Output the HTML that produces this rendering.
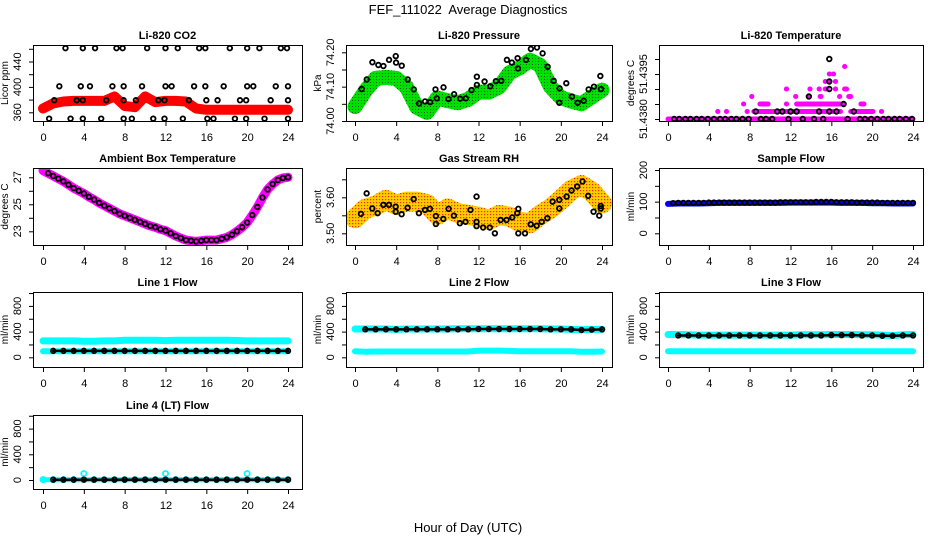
<!DOCTYPE html>
<html><head><meta charset="utf-8">
<style>
html,body{margin:0;padding:0;background:#fff;}
svg{display:block;font-family:"Liberation Sans",sans-serif;}
.tk{font-size:11px;}
.ttl{font-size:11px;font-weight:bold;}
</style></head>
<body>
<svg id="chart" width="936" height="540" viewBox="0 0 936 540">
<defs>
<pattern id="gpat" width="3" height="3" patternUnits="userSpaceOnUse"><rect width="3" height="3" fill="#00e000"/><rect x="1" y="1" width="1" height="1" fill="#006000"/></pattern>
<pattern id="opat" width="3" height="3" patternUnits="userSpaceOnUse"><rect width="3" height="3" fill="#ffcc00"/><rect x="1" y="1" width="1.2" height="1.2" fill="#e83000"/></pattern>
</defs>
<text x="468" y="14" text-anchor="middle" font-size="13" style="white-space:pre">FEF_111022&#160; Average Diagnostics</text>
<text x="468" y="532" text-anchor="middle" font-size="13">Hour of Day (UTC)</text>
</svg>
<script>
// ---------- data ----------
const hourTicks = [0,4,8,12,16,20,24];
const hourly = [0,1,2,3,4,5,6,7,8,9,10,11,12,13,14,15,16,17,18,19,20,21,22,23,24];

const co2Red = [366,374,377,378,378,378,378,385,370,368,385,376,378,378,377,366,364,364,364,364,364,364,364,364,364];
const co2BlackH461 = [2.2,3.9,5.1,7.2,7.8,10.2,12.0,13.2,15.3,15.9,18.3,20.0,21.2,23.3,23.9];
const co2BlackH401 = [1.6,3.7,4.6,6.8,7.9,9.7,12.0,12.6,14.8,15.9,17.7,20.0,20.6,22.8,24];
const co2BlackH379 = [1.1,3.3,3.9,6.2,7.9,9.1,11.3,11.9,14.3,16.0,17.1,19.3,19.9,22.3,24];
const co2BlackH350 = [0.6,2.7,3.9,5.7,7.9,8.7,10.8,11.9,13.7,16.1,16.7,18.8,19.9,21.7,24];

const presGreen = [74.042,74.088,74.124,74.127,74.124,74.099,74.040,74.025,74.067,74.059,74.053,74.063,74.084,74.084,74.099,74.140,74.155,74.177,74.162,74.100,74.068,74.058,74.050,74.070,74.090];
const presBlackH = [0.65,1.14,1.69,2.27,2.76,3.31,3.96,3.99,4.54,5.12,5.71,6.23,6.81,7.30,7.82,7.95,8.60,9.08,9.63,10.22,10.77,11.32,11.84,11.84,12.59,13.14,13.69,14.21,14.76,15.24,15.80,15.83,16.61,17.09,17.68,18.23,18.72,19.30,19.88,19.85,20.53,21.08,21.63,22.22,22.70,23.22,23.84,23.90];
const presBlackV = [74.093,74.121,74.171,74.163,74.160,74.178,74.189,74.170,74.161,74.121,74.092,74.051,74.057,74.055,74.092,74.066,74.098,74.064,74.078,74.065,74.066,74.090,74.129,74.105,74.115,74.101,74.116,74.117,74.178,74.170,74.183,74.153,74.178,74.210,74.214,74.197,74.158,74.117,74.095,74.053,74.110,74.071,74.053,74.059,74.092,74.100,74.131,74.093];

// temperature runs: [startHour, endHour, value]
const tempMagentaRuns = [[0,24,51.4380],[4.87,4.87,51.4381],[5.72,5.72,51.4381],[7.75,7.75,51.4381],[8.4,16.9,51.4381],[17.9,20.2,51.4381],[20.9,20.9,51.4381],
 [7.4,7.4,51.4382],[9.0,9.9,51.4382],[11.6,11.6,51.4382],[12.6,16.9,51.4382],[17.2,17.2,51.4382],[18.9,19.2,51.4382],
 [8.2,8.2,51.4383],[12.5,12.5,51.4383],[13.8,13.8,51.4383],[14.9,15.0,51.4383],[16.8,16.8,51.4383],[17.7,17.9,51.4383],
 [11.6,11.6,51.4384],[13.9,13.9,51.4384],[14.8,14.8,51.4384],[15.4,15.6,51.4384],[16.4,16.4,51.4384],[17.3,17.5,51.4384],
 [15.4,15.4,51.4385],[15.8,15.8,51.4385],[16.4,16.4,51.4385],[15.8,15.8,51.4386],[16.2,16.2,51.4386],[17.3,17.3,51.4387]];
const tempBlackH = [0.6,1.1,1.7,2.2,2.8,3.3,3.9,4.5,5.1,5.6,6.2,6.7,7.3,7.9,9.1,9.6,10.2,11.8,13.2,14.3,15.2,17.6,18.8,19.3,19.9,20.5,21.1,21.6,22.2,22.7,23.3,23.9,8.6,10.7,11.2,12.0,12.6,14.8,15.8,16.5,18.2,17.2,13.8,15.8,15.8,15.8];
const tempBlackV = [51.4380,51.4380,51.4380,51.4380,51.4380,51.4380,51.4380,51.4380,51.4380,51.4380,51.4380,51.4380,51.4380,51.4380,51.4380,51.4380,51.4380,51.4380,51.4380,51.4380,51.4380,51.4380,51.4380,51.4380,51.4380,51.4380,51.4380,51.4380,51.4380,51.4380,51.4380,51.4380,51.4381,51.4381,51.4381,51.4381,51.4381,51.4381,51.4381,51.4381,51.4381,51.4382,51.4383,51.4384,51.4385,51.4388];

const halfHours = [0,0.5,1,1.5,2,2.5,3,3.5,4,4.5,5,5.5,6,6.5,7,7.5,8,8.5,9,9.5,10,10.5,11,11.5,12,12.5,13,13.5,14,14.5,15,15.5,16,16.5,17,17.5,18,18.5,19,19.5,20,20.5,21,21.5,22,22.5,23,23.5,24];
const ambient = [27.5,27.3,27.1,26.9,26.7,26.45,26.2,26.0,25.8,25.55,25.35,25.1,24.9,24.7,24.5,24.3,24.15,24.0,23.85,23.7,23.55,23.4,23.3,23.15,23.05,22.85,22.65,22.5,22.35,22.3,22.25,22.3,22.35,22.35,22.35,22.45,22.55,22.75,23.0,23.3,23.65,24.2,24.8,25.5,26.1,26.5,26.8,26.95,27.0];

const rhCloud = [3.542,3.568,3.577,3.593,3.579,3.588,3.588,3.581,3.551,3.569,3.556,3.551,3.546,3.537,3.551,3.546,3.532,3.528,3.551,3.569,3.593,3.620,3.634,3.616,3.583];
const rhBlackH = [0.58,1.13,1.68,2.20,2.75,3.30,3.95,3.95,4.53,5.11,5.70,6.21,6.80,7.28,7.86,7.86,8.58,9.10,9.61,10.19,10.74,11.22,11.81,11.81,11.81,12.45,13.10,13.59,14.14,14.72,15.28,15.77,15.87,15.87,16.52,17.07,17.65,18.14,18.69,19.20,19.85,19.85,20.56,21.04,21.59,22.11,22.66,23.18,23.73,23.88,23.88];
const rhBlackV = [3.554,3.611,3.569,3.556,3.579,3.579,3.574,3.560,3.553,3.571,3.595,3.556,3.565,3.568,3.548,3.526,3.540,3.568,3.549,3.528,3.532,3.565,3.602,3.532,3.520,3.516,3.516,3.500,3.537,3.537,3.544,3.556,3.568,3.500,3.500,3.525,3.521,3.532,3.542,3.588,3.593,3.569,3.602,3.619,3.630,3.644,3.604,3.560,3.549,3.576,3.569];

const sampleBlue = [93,94,94,94,95,96,96,96,96,96,96,96,97,97,97,97,97,96,96,96,95,95,94,94,94];
const sampleBlack = [95,95,96,96,96,96,96,96,97,97,97,97,97,97,97,97,97,97,97,97,97,97,98,98,98,98,98,98,98,99,99,99,99,98,98,98,98,97,97,97,97,97,96,96,96,96,96,96,96];

const line1Upper = [255,255,255,255,250,250,255,255,265,265,265,265,260,265,265,265,265,265,265,262,255,255,255,255,255];
const line1Lower = [95,95,95,95,95,95,95,95,95,95,95,95,95,95,95,95,95,95,95,95,95,95,95,95,95];
const line1Black = [100,100,100,100,100,100,100,100,100,100,100,100,100,100,100,100,100,100,100,100,100,100,100,100,100];
const line2Upper = [440,440,440,440,435,440,440,440,440,440,445,445,445,445,445,445,445,445,445,440,440,435,430,435,435];
const line2Lower = [95,85,90,90,90,90,90,90,90,90,90,90,105,105,105,100,95,95,95,95,95,95,85,85,90];
const line2Black = [435,435,435,435,435,435,435,435,435,435,435,435,440,440,440,440,440,440,440,435,435,435,425,430,435];
const line3Upper = [355,355,350,345,345,345,345,345,345,345,345,345,345,350,350,350,355,355,355,350,350,345,340,350,355];
const line3Lower = [95,95,95,95,95,95,95,95,95,95,95,95,95,95,95,95,95,95,95,95,95,95,95,95,95];
const line3Black = [340,340,340,340,340,340,340,340,340,340,340,340,340,340,340,340,345,345,345,340,340,335,335,340,340];
const line4Cyan = [5,5,5,5,100,5,5,5,5,5,5,5,100,5,5,5,5,5,5,5,100,5,5,5,5];
const line4Black = [5,5,5,5,5,5,5,5,5,5,5,5,5,5,5,5,5,5,5,5,5,5,5,5,5];

const co2Ticks=[360,380,400,420,440,460], co2Labels=["360","","400","","440",""];
const presTicks=[74.00,74.05,74.10,74.15,74.20], presLabels=["74.00","","74.10","","74.20"];
const tempTicks=[51.4380,51.4382,51.4384,51.4386,51.4388], tempLabels=["51.4380","","","51.4395",""];
const ambTicks=[23,24,25,26,27], ambLabels=["23","","25","","27"];
const rhTicks=[3.50,3.55,3.60,3.65], rhLabels=["3.50","","3.60",""];
const sfTicks=[0,50,100,150,200], sfLabels=["0","","100","","200"];
const flowTicks=[0,200,400,600,800,1000], flowLabels=["0","","400","","800",""];

// ---------- layout ----------
const svg=document.getElementById('chart');
const NS='http://www.w3.org/2000/svg';
const colL=[33,346,659], colR=[302,612,923], colX0=[43,355,668], colX24=[288,602,913];
const rowT=[45,168,292,415], rowB=[121,245,367,489];
function mk(tag,attrs,parent){const e=document.createElementNS(NS,tag);for(const k in attrs)e.setAttribute(k,attrs[k]);(parent||svg).appendChild(e);return e;}

function panel(name,c,r,title,ylab,v0,p0,v1,p1,ticks,labels){
  const g=mk('g',{});
  
  
  const L=colL[c],R=colR[c],T=rowT[r],B=rowB[r];
  const xs=h=>colX0[c]+(h/24)*(colX24[c]-colX0[c]);
  const ys=v=>p0+(v-v0)/(v1-v0)*(p1-p0);
  const clipId='clip-'+name;
  const cp=mk('clipPath',{id:clipId},g);mk('rect',{x:L,y:T,width:R-L,height:B-T},cp);
  const data=mk('g',{'clip-path':'url(#'+clipId+')'},g);
  
  
  const box=mk('rect',{x:L+0.5,y:T+0.5,width:R-L,height:B-T,fill:'none',stroke:'#000','stroke-width':1},g);
  
  
  const t=mk('text',{x:(L+R)/2,y:T-6,'text-anchor':'middle',class:'ttl'},g);t.textContent=title;
  
  
  const xa=mk('g',{},g);
  
  
  mk('line',{x1:xs(0),x2:xs(24),y1:B+0.5,y2:B+0.5,stroke:'#000'},xa);
  hourTicks.forEach(h=>{mk('line',{x1:xs(h)+0.5,x2:xs(h)+0.5,y1:B,y2:B+5,stroke:'#000'},xa);
    const tl=mk('text',{x:xs(h)+0.5,y:B+20,'text-anchor':'middle',class:'tk'},xa);tl.textContent=h;});
  const ya=mk('g',{},g);
  
  
  mk('line',{x1:L+0.5,x2:L+0.5,y1:ys(ticks[0]),y2:ys(ticks[ticks.length-1]),stroke:'#000'},ya);
  ticks.forEach((v,i)=>{const y=ys(v);mk('line',{x1:L-4,x2:L,y1:y+0.5,y2:y+0.5,stroke:'#000'},ya);
    if(labels[i]){const tl=mk('text',{x:L-12,y:y,'text-anchor':'middle',class:'tk',transform:'rotate(-90 '+(L-12)+' '+y+')'},ya);
      tl.textContent=labels[i];}});
  const yl=mk('text',{x:L-25,y:(T+B)/2,'text-anchor':'middle','font-size':'10',transform:'rotate(-90 '+(L-25)+' '+((T+B)/2)+')'},g);
  yl.textContent=ylab;
  
  
  return {xs,ys,data};
}
function band(p,name,hs,vs,color,w,dash){
  const pts=hs.map((h,i)=>p.xs(h).toFixed(1)+','+p.ys(vs[i]).toFixed(1)).join(' ');
  const pl=mk('polyline',{points:pts,fill:'none',stroke:color,'stroke-width':w,'stroke-linejoin':'round','stroke-linecap':'round'},p.data);
  if(dash)pl.setAttribute('stroke-dasharray',dash);
  
  
}
function dots(p,name,hs,vs,color,r){
  const g=mk('g',{},p.data);
  
  
  hs.forEach((h,i)=>{mk('circle',{cx:p.xs(h),cy:p.ys(vs[i]),r:r||2.3,fill:'none',stroke:color,'stroke-width':1.8},g);});
}
function fill(arr,v){return arr.map(()=>v);}

let p=panel('co2',0,0,'Li-820 CO2','Licor ppm',360,112.3,440,61.5,co2Ticks,co2Labels);
band(p,'co2-red-series',hourly,co2Red,'#ff0000',10);
dots(p,'co2-black-461',co2BlackH461,fill(co2BlackH461,461),'#000');
dots(p,'co2-black-401',co2BlackH401,fill(co2BlackH401,401),'#000');
dots(p,'co2-black-379',co2BlackH379,fill(co2BlackH379,379),'#000');
dots(p,'co2-black-350',co2BlackH350,fill(co2BlackH350,350),'#000');
p=panel('pressure',1,0,'Li-820 Pressure','kPa',74.00,121,74.20,52.3,presTicks,presLabels);
band(p,'pressure-green-series',hourly,presGreen,'url(#gpat)',15);
dots(p,'pressure-black-series',presBlackH,presBlackV,'#000');
p=panel('temperature',2,0,'Li-820 Temperature','degrees C',51.4380,119,51.4381,111.5,tempTicks,tempLabels);
tempMagentaRuns.forEach((run,i)=>{band(p,'temperature-magenta-run',[run[0],run[1]],[run[2],run[2]],'#ff00ff',5,'3.5 1.2');});
dots(p,'temperature-black-series',tempBlackH,tempBlackV,'#000');
p=panel('ambient-temp',0,1,'Ambient Box Temperature','degrees C',27,177.3,23,231.3,ambTicks,ambLabels);
band(p,'ambient-magenta-series',halfHours,ambient,'#ff00ff',9);
dots(p,'ambient-black-series',halfHours.slice(1),ambient.slice(1),'#000');
p=panel('rh',1,1,'Gas Stream RH','percent',3.60,197.3,3.50,233.3,rhTicks,rhLabels);
band(p,'rh-orange-series',hourly,rhCloud,'url(#opat)',20);
dots(p,'rh-black-series',rhBlackH,rhBlackV,'#000');
p=panel('sample-flow',2,1,'Sample Flow','ml/min',0,233.3,200,170,sfTicks,sfLabels);
band(p,'sample-blue-series',hourly,sampleBlue,'#0000ff',6);
dots(p,'sample-black-series',halfHours.slice(1),sampleBlack.slice(1),'#000');
function flowPanel(name,c,r,title,zeroPx,upper,lower,black){
  const q=panel(name,c,r,title,'ml/min',0,zeroPx,400,zeroPx-25.7,flowTicks,flowLabels);
  if(upper)band(q,name+'-cyan-upper',hourly,upper,'#00ffff',7);
  if(lower)band(q,name+'-cyan-lower',hourly,lower,'#00ffff',6);
  band(q,name+'-black-band',hourly.slice(1),black.slice(1),'#000',2.5);
  dots(q,name+'-black-series',hourly.slice(1),black.slice(1),'#000',2.3);
  return q;
}
flowPanel('line1-flow',0,2,'Line 1 Flow',357.3,line1Upper,line1Lower,line1Black);
flowPanel('line2-flow',1,2,'Line 2 Flow',357.3,line2Upper,line2Lower,line2Black);
flowPanel('line3-flow',2,2,'Line 3 Flow',357.3,line3Upper,line3Lower,line3Black);
const q4=panel('line4-flow',0,3,'Line 4 (LT) Flow','ml/min',0,480,400,454.3,flowTicks,flowLabels);
band(q4,'line4-cyan-band',hourly,fill(hourly,5),'#00ffff',5);
dots(q4,'line4-cyan-series',hourly,line4Cyan,'#00ffff',2.6);
band(q4,'line4-black-band',hourly.slice(1),line4Black.slice(1),'#000',2.5);
dots(q4,'line4-black-series',hourly.slice(1),line4Black.slice(1),'#000',2.3);
</script>
</body></html>
